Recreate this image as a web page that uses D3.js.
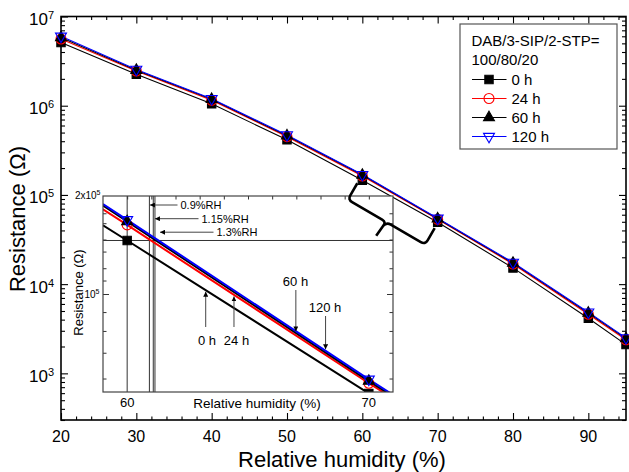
<!DOCTYPE html>
<html>
<head>
<meta charset="utf-8">
<script src="https://cdn.jsdelivr.net/npm/d3@7"></script>
<style>
  body { margin: 0; background: #fff; }
  text { font-family: "Liberation Sans", Arial, sans-serif; fill: #000; }
</style>
</head>
<body>
<svg id="chart" width="629" height="472"></svg>
<script>
/* global d3 */

// ---- data ----
var rh = [ 20, 30, 40, 50, 60, 70, 80, 90, 95 ];
var res0h   = [ 5.1e6, 2.25e6, 1.05e6, 4.15e5, 1.46e5, 4.95e4, 1.52e4, 4.15e3, 2.1e3 ];
var res24h  = [ 5.6e6, 2.45e6, 1.15e6, 4.5e5, 1.63e5, 5.32e4, 1.68e4, 4.6e3, 2.38e3 ];
var res60h  = [ 5.8e6, 2.5e6, 1.18e6, 4.6e5, 1.67e5, 5.4e4, 1.72e4, 4.75e3, 2.45e3 ];
var res120h = [ 6.0e6, 2.55e6, 1.2e6, 4.7e5, 1.69e5, 5.47e4, 1.75e4, 4.85e3, 2.5e3 ];

// inset: values at the frame edges (59, 71) and at the measured points (60, 70)
var insetRh = [ 59, 60, 70, 71 ];
var inset0h   = [ 1.626e5, 1.46e5, 4.95e4, 4.44e4 ];
var inset24h  = [ 1.82e5, 1.63e5, 5.32e4, 4.78e4 ];
var inset60h  = [ 1.87e5, 1.67e5, 5.4e4, 4.85e4 ];
var inset120h = [ 1.89e5, 1.69e5, 5.47e4, 4.9e4 ];

var seriesNames = [ "0 h", "24 h", "60 h", "120 h" ];
var legendTitle = [ "DAB/3-SIP/2-STP=", "100/80/20" ];

var xTickLabels = [ 20, 30, 40, 50, 60, 70, 80, 90 ];
var yTickExps = [ 3, 4, 5, 6, 7 ];
var insetXTickLabels = [ 60, 70 ];
var insetYMinor = [ 5.5e4, 6.6e4, 7.7e4, 8.8e4, 1.1e5, 1.2e5, 1.35e5, 1.47e5, 1.65e5, 1.77e5 ];
var insetGuideX = [ 60, 60.92, 61.08, 61.15 ];
var rhLabels = [ "0.9%RH", "1.15%RH", "1.3%RH" ];
var rhArrowTip = [ 60.94, 61.15, 61.36 ];

var svg = d3.select( "#chart" );

var x = d3.scaleLinear().domain( [ 20, 95 ] ).range( [ 61, 626 ] );
var y = d3.scaleLog().domain( [ 300, 1e7 ] ).range( [ 420, 16.5 ] );

var styles = [
  { color: "#000", sym: "square", fill: "#000" },
  { color: "#f00", sym: "circle", fill: "none" },
  { color: "#000", sym: "up", fill: "#000" },
  { color: "#00f", sym: "down", fill: "none" }
];
var mainData = [ res0h, res24h, res60h, res120h ];
var insetData = [ inset0h, inset24h, inset60h, inset120h ];

function symPath( s ) {
  if ( s === "square" ) return d3.symbol( d3.symbolSquare, 70 )();
  if ( s === "circle" ) return d3.symbol( d3.symbolCircle, 78 )();
  return d3.symbol( d3.symbolTriangle, 52 )();
}
function drawMarker( g, s, px, py ) {
  var st = styles[ s ];
  g.append( "path" )
    .attr( "d", symPath( st.sym ) )
    .attr( "transform", "translate(" + px + "," + py + ")" + ( st.sym === "down" ? " rotate(180)" : "" ) )
    .attr( "fill", st.fill )
    .attr( "stroke", st.color )
    .attr( "stroke-width", 1.1 );
}

// arrowhead
svg.append( "defs" ).append( "marker" )
  .attr( "id", "ah" ).attr( "viewBox", "0 0 10 10" )
  .attr( "refX", 10 ).attr( "refY", 5 )
  .attr( "markerWidth", 5 ).attr( "markerHeight", 5 )
  .attr( "markerUnits", "userSpaceOnUse" )
  .attr( "orient", "auto" )
  .append( "path" ).attr( "d", "M0,0 L10,5 L0,10 Z" ).attr( "fill", "#000" );

// ---- main axes ----
var xMinor = d3.range( 22, 95, 2 ).filter( function( v ) { return v % 10 !== 0; } );
var yMinor = [];
[ 100, 1000, 10000, 100000, 1000000 ].forEach( function( d ) {
  for ( var k = 2; k <= 9; k++ ) if ( d * k >= 300 && d * k < 1e7 ) yMinor.push( d * k );
} );
var yMajor = yTickExps.map( function( e ) { return Math.pow( 10, e ); } );

function tickAxis( axis, vals, size, tr ) {
  svg.append( "g" ).attr( "transform", tr )
    .call( axis.tickValues( vals ).tickSize( size ).tickFormat( "" ) )
    .call( function( g ) { g.select( ".domain" ).remove(); } )
    .selectAll( "line" ).attr( "stroke", "#000" ).attr( "stroke-width", 1.1 );
}
tickAxis( d3.axisBottom( x ), xMinor, -3.5, "translate(0,420)" );
tickAxis( d3.axisBottom( x ), xTickLabels, -7, "translate(0,420)" );
tickAxis( d3.axisTop( x ), xMinor, -3.5, "translate(0,16.5)" );
tickAxis( d3.axisTop( x ), xTickLabels, -7, "translate(0,16.5)" );
tickAxis( d3.axisLeft( y ), yMinor, -4, "translate(61,0)" );
tickAxis( d3.axisLeft( y ), yMajor, -7, "translate(61,0)" );
tickAxis( d3.axisRight( y ), yMinor, -4, "translate(626,0)" );
tickAxis( d3.axisRight( y ), yMajor, -7, "translate(626,0)" );

svg.append( "rect" )
  .attr( "x", 61 ).attr( "y", 16.5 ).attr( "width", 565 ).attr( "height", 403.5 )
  .attr( "fill", "none" ).attr( "stroke", "#000" ).attr( "stroke-width", 1.6 );

svg.append( "g" ).selectAll( "text" ).data( xTickLabels ).enter().append( "text" )
  .attr( "x", function( d ) { return x( d ); } ).attr( "y", 442 )
  .attr( "text-anchor", "middle" ).style( "font-size", "16px" )
  .text( function( d ) { return d; } );

var yl = svg.append( "g" ).selectAll( "text" ).data( yTickExps ).enter().append( "text" )
  .attr( "x", 54 ).attr( "y", function( d ) { return y( Math.pow( 10, d ) ) + 8.5; } )
  .attr( "text-anchor", "end" ).style( "font-size", "17px" );
yl.append( "tspan" ).text( "10" );
yl.append( "tspan" ).attr( "dy", -6 ).style( "font-size", "11px" ).text( function( d ) { return d; } );

svg.append( "text" ).attr( "x", 342 ).attr( "y", 467 )
  .attr( "text-anchor", "middle" ).style( "font-size", "22px" ).text( "Relative humidity (%)" );
svg.append( "text" ).attr( "transform", "translate(25,219) rotate(-90)" )
  .attr( "text-anchor", "middle" ).style( "font-size", "22px" ).text( "Resistance (\u03a9)" );

// ---- main series ----
var line = d3.line()
  .x( function( d, i ) { return x( rh[ i ] ); } )
  .y( function( d ) { return y( d ); } );
var gm = svg.append( "g" );
mainData.forEach( function( vals, s ) {
  gm.append( "path" ).attr( "d", line( vals ) )
    .attr( "fill", "none" ).attr( "stroke", styles[ s ].color ).attr( "stroke-width", 1.1 );
} );
mainData.forEach( function( vals, s ) {
  vals.forEach( function( v, i ) { drawMarker( gm, s, x( rh[ i ] ), y( v ) ); } );
} );

// ---- legend ----
var lg = svg.append( "g" );
lg.append( "rect" ).attr( "x", 460 ).attr( "y", 24 ).attr( "width", 157 ).attr( "height", 125 )
  .attr( "fill", "#fff" ).attr( "stroke", "#555" ).attr( "stroke-width", 1.2 );
legendTitle.forEach( function( t, i ) {
  lg.append( "text" ).attr( "x", 471.5 ).attr( "y", 46 + i * 19 ).style( "font-size", "15px" ).text( t );
} );
seriesNames.forEach( function( nm, s ) {
  var cy = 79.5 + s * 19;
  lg.append( "line" ).attr( "x1", 472 ).attr( "x2", 506.5 ).attr( "y1", cy ).attr( "y2", cy )
    .attr( "stroke", styles[ s ].color ).attr( "stroke-width", 1.1 );
  drawMarker( lg, s, 489, cy );
  lg.append( "text" ).attr( "x", 511.5 ).attr( "y", cy + 5 ).style( "font-size", "15px" ).text( nm );
} );

// ---- inset ----
var ix = d3.scaleLinear().domain( [ 59, 71 ] ).range( [ 103, 393 ] );
var iy = d3.scaleLog().domain( [ 5e4, 2e5 ] ).range( [ 392, 196 ] );
var gi = svg.append( "g" );
gi.append( "rect" ).attr( "x", 103 ).attr( "y", 196 ).attr( "width", 290 ).attr( "height", 196 )
  .attr( "fill", "#fff" );
svg.select( "defs" ).append( "clipPath" ).attr( "id", "iclip" )
  .append( "rect" ).attr( "x", 103 ).attr( "y", 196 ).attr( "width", 290 ).attr( "height", 196 );

var inner = gi.append( "g" ).attr( "clip-path", "url(#iclip)" );
insetGuideX.forEach( function( v ) {
  inner.append( "line" ).attr( "x1", ix( v ) ).attr( "x2", ix( v ) ).attr( "y1", 196 ).attr( "y2", 392 )
    .attr( "stroke", "#333" ).attr( "stroke-width", 1 );
} );
inner.append( "line" ).attr( "x1", 103 ).attr( "x2", 393 )
  .attr( "y1", iy( inset0h[ 1 ] ) ).attr( "y2", iy( inset0h[ 1 ] ) )
  .attr( "stroke", "#333" ).attr( "stroke-width", 1 );

var iline = d3.line()
  .x( function( d, i ) { return ix( insetRh[ i ] ); } )
  .y( function( d ) { return iy( d ); } );
insetData.forEach( function( vals, s ) {
  inner.append( "path" ).attr( "d", iline( vals ) ).attr( "fill", "none" )
    .attr( "stroke", styles[ s ].color ).attr( "stroke-width", 2 );
} );
insetData.forEach( function( vals, s ) {
  [ 1, 2 ].forEach( function( i ) { drawMarker( inner, s, ix( insetRh[ i ] ), iy( vals[ i ] ) ); } );
} );

// inset ticks
function itick( axis, vals, size, tr ) {
  gi.append( "g" ).attr( "transform", tr )
    .call( axis.tickValues( vals ).tickSize( size ).tickFormat( "" ) )
    .call( function( g ) { g.select( ".domain" ).remove(); } )
    .selectAll( "line" ).attr( "stroke", "#333" ).attr( "stroke-width", 1 );
}
itick( d3.axisTop( ix ), d3.range( 60, 71 ), -3.5, "translate(0,196)" );
itick( d3.axisLeft( iy ), insetYMinor, -3.5, "translate(103,0)" );
itick( d3.axisLeft( iy ), [ 1e5 ], -6, "translate(103,0)" );
itick( d3.axisRight( iy ), insetYMinor, -3.5, "translate(393,0)" );
itick( d3.axisRight( iy ), [ 1e5 ], -6, "translate(393,0)" );
gi.append( "rect" ).attr( "x", 103 ).attr( "y", 196 ).attr( "width", 290 ).attr( "height", 196 )
  .attr( "fill", "none" ).attr( "stroke", "#444" ).attr( "stroke-width", 1.2 );

gi.selectAll( ".ixl" ).data( insetXTickLabels ).enter().append( "text" )
  .attr( "x", function( d ) { return ix( d ); } ).attr( "y", 406.5 )
  .attr( "text-anchor", "middle" ).style( "font-size", "13px" ).text( function( d ) { return d; } );
var t1 = gi.append( "text" ).attr( "x", 99.5 ).attr( "y", iy( 1e5 ) + 3.5 )
  .attr( "text-anchor", "end" ).style( "font-size", "10px" );
t1.append( "tspan" ).text( "10" );
t1.append( "tspan" ).attr( "dy", -4 ).style( "font-size", "7px" ).text( "5" );
var t2 = gi.append( "text" ).attr( "x", 100.5 ).attr( "y", iy( 2e5 ) + 2.5 )
  .attr( "text-anchor", "end" ).style( "font-size", "10px" );
t2.append( "tspan" ).text( "2x10" );
t2.append( "tspan" ).attr( "dy", -4 ).style( "font-size", "7px" ).text( "5" );

gi.append( "text" ).attr( "x", 257 ).attr( "y", 407.5 ).attr( "text-anchor", "middle" )
  .style( "font-size", "13.5px" ).text( "Relative humidity (%)" );
gi.append( "text" ).attr( "transform", "translate(83,292.5) rotate(-90)" ).attr( "text-anchor", "middle" )
  .style( "font-size", "13px" ).text( "Resistance (\u03a9)" );

// %RH annotations
var rhText = [ { x: 180.5, y: 209 }, { x: 201.5, y: 222.7 }, { x: 216.5, y: 236.2 } ];
rhLabels.forEach( function( t, i ) {
  var ay = rhText[ i ].y - 4;
  gi.append( "line" ).attr( "x1", rhText[ i ].x - 3 ).attr( "x2", ix( rhArrowTip[ i ] ) )
    .attr( "y1", ay ).attr( "y2", ay ).attr( "stroke", "#444" ).attr( "stroke-width", 1 )
    .attr( "marker-end", "url(#ah)" );
  gi.append( "text" ).attr( "x", rhText[ i ].x ).attr( "y", rhText[ i ].y )
    .style( "font-size", "11px" ).text( t );
} );

// series labels with arrows pointing at the lines
function valAt( vals, r ) {
  var a = Math.log10( vals[ 1 ] ), b = Math.log10( vals[ 2 ] );
  return Math.pow( 10, a + ( r - 60 ) / 10 * ( b - a ) );
}
var seriesAnn = [
  { s: 0, r: 63.25, tx: 207, ty: 345, from: 327, up: true },
  { s: 1, r: 64.42, tx: 236.5, ty: 345, from: 327, up: true },
  { s: 2, r: 66.98, tx: 295.5, ty: 286, from: 290, up: false },
  { s: 3, r: 68.21, tx: 325, ty: 311.5, from: 316, up: false }
];
seriesAnn.forEach( function( a ) {
  var tipY = iy( valAt( insetData[ a.s ], a.r ) ) + ( a.up ? 1.5 : -1.5 );
  gi.append( "line" ).attr( "x1", ix( a.r ) ).attr( "x2", ix( a.r ) )
    .attr( "y1", a.from ).attr( "y2", tipY )
    .attr( "stroke", "#444" ).attr( "stroke-width", 1 ).attr( "marker-end", "url(#ah)" );
  gi.append( "text" ).attr( "x", a.tx ).attr( "y", a.ty ).attr( "text-anchor", "middle" )
    .style( "font-size", "13px" ).text( seriesNames[ a.s ] );
} );

// ---- brace linking the 60-70 % segment to the inset (drawn on top) ----
( function() {
  var p1 = [ x( 60 ) - 5, y( res0h[ 4 ] ) + 3 ],
    p2 = [ x( 70 ) - 3, y( res0h[ 5 ] ) + 6 ];
  var dx = p2[ 0 ] - p1[ 0 ], dy = p2[ 1 ] - p1[ 1 ], L = Math.hypot( dx, dy );
  var u = [ dx / L, dy / L ], n = [ -u[ 1 ], u[ 0 ] ];
  var h = 19, t = 17, r = 5;
  var m = [ ( p1[ 0 ] + p2[ 0 ] ) / 2, ( p1[ 1 ] + p2[ 1 ] ) / 2 ];
  function P( b, a, c ) { return [ b[ 0 ] + n[ 0 ] * a + u[ 0 ] * c, b[ 1 ] + n[ 1 ] * a + u[ 1 ] * c ].join( "," ); }
  var d = "M" + P( p1, 0, 0 ) + "L" + P( p1, h - r, 0 ) + "Q" + P( p1, h, 0 ) + " " + P( p1, h, r ) +
    "L" + P( m, h, -r ) + "Q" + P( m, h, 0 ) + " " + P( m, h + r, -1 ) + "L" + P( m, h + t, -2 ) +
    "M" + P( m, h + r, -1 ) + "Q" + P( m, h, 0 ) + " " + P( m, h, r ) +
    "L" + P( p2, h, -r ) + "Q" + P( p2, h, 0 ) + " " + P( p2, h - r, 0 ) + "L" + P( p2, 0, 0 );
  svg.append( "path" ).attr( "d", d ).attr( "fill", "none" )
    .attr( "stroke", "#000" ).attr( "stroke-width", 2.6 ).attr( "stroke-linejoin", "round" );
} )();
</script>
</body>
</html>
